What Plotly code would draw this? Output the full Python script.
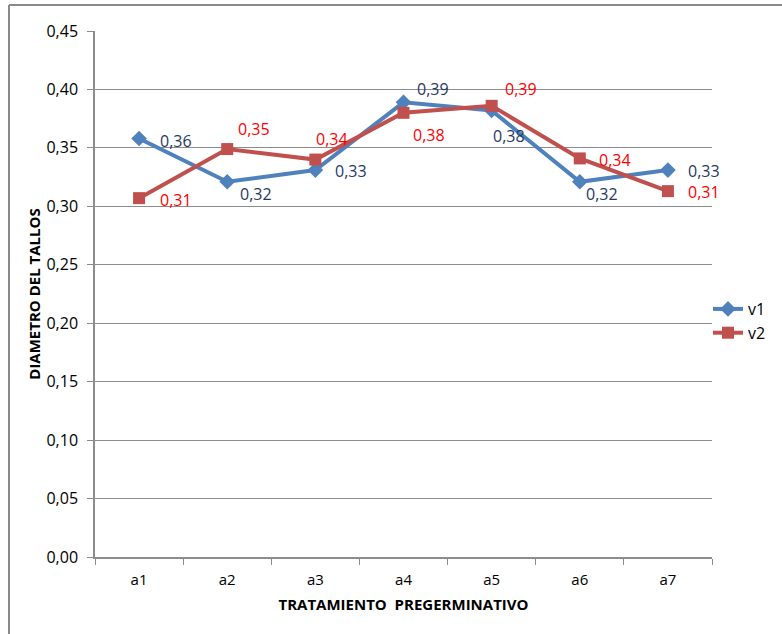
import plotly.graph_objects as go

# Data
categories = ["a1", "a2", "a3", "a4", "a5", "a6", "a7"]
v1 = [0.358, 0.321, 0.331, 0.389, 0.382, 0.321, 0.331]
v2 = [0.307, 0.349, 0.340, 0.380, 0.386, 0.341, 0.313]
y_ticks = [0.00, 0.05, 0.10, 0.15, 0.20, 0.25, 0.30, 0.35, 0.40, 0.45]

# Pixel offsets of the value labels from their markers (dx, dy; dy positive = down)
v1_offsets = [(19, 2), (11, 12), (18, 1), (11, -13), (-1, 26), (4, 12), (18, 1)]
v2_offsets = [(19, 2), (9, -20), (-1, -21), (7, 22), (11, -17), (17, 2), (18, 1)]

BLUE = "#4F81BD"
RED = "#C0504D"
GRID = "#8C8C8C"
FONT = "Open Sans"

def fmt(v):
    return f"{v:.2f}".replace(".", ",")

fig = go.Figure()
fig.add_trace(go.Scatter(
    x=categories, y=v1, name="v1", mode="lines+markers",
    line=dict(color=BLUE, width=4),
    marker=dict(symbol="diamond", size=12, color=BLUE),
))
fig.add_trace(go.Scatter(
    x=categories, y=v2, name="v2", mode="lines+markers",
    line=dict(color=RED, width=4),
    marker=dict(symbol="square", size=12, color=RED),
))

annotations = []
for vals, offs, col in ((v1, v1_offsets, "#1F3864"), (v2, v2_offsets, "#FF0000")):
    for c, v, (dx, dy) in zip(categories, vals, offs):
        annotations.append(dict(
            x=c, y=v, xref="x", yref="y", text=fmt(v), showarrow=False,
            xanchor="left", yanchor="middle", xshift=dx, yshift=-dy,
            font=dict(family=FONT, size=16, color=col),
        ))

# Chart frame (left and top edges)
L, R, T, B = 95, 70, 31, 77
W, H = 782, 634
pw, ph = W - L - R, H - T - B
def px(x):
    return (x - L) / pw
def py(y):
    return (H - B - y) / ph

shapes = [
    dict(type="line", xref="paper", yref="paper", x0=px(9), x1=px(790), y0=py(5), y1=py(5),
         line=dict(color="#8A8A8A", width=2)),
    dict(type="line", xref="paper", yref="paper", x0=px(9), x1=px(9), y0=py(5), y1=py(640),
         line=dict(color="#8A8A8A", width=2)),
]

fig.update_layout(
    width=W, height=H,
    margin=dict(l=L, r=R, t=T, b=B, autoexpand=False),
    paper_bgcolor="white", plot_bgcolor="white",
    separators=", ",
    font=dict(family=FONT, size=15, color="#000000"),
    showlegend=True,
    legend=dict(x=px(708), y=py(321), xanchor="left", yanchor="middle",
                font=dict(family=FONT, size=16, color="#000000"),
                bgcolor="rgba(0,0,0,0)", itemwidth=30, tracegroupgap=6),
    annotations=annotations,
    shapes=shapes,
)
fig.update_xaxes(
    range=[-0.5, 6.5], showgrid=False, showline=True, linecolor=GRID, linewidth=1.5,
    ticks="outside", tickson="boundaries", ticklen=6, tickcolor=GRID,
    tickfont=dict(family=FONT, size=15), ticklabelstandoff=8,
    title=dict(text="<b>TRATAMIENTO  PREGERMINATIVO</b>", font=dict(family=FONT, size=15), standoff=12),
)
fig.update_yaxes(
    range=[0, 0.45], tickvals=y_ticks, tickformat=".2f", showgrid=True, gridcolor=GRID, gridwidth=1,
    showline=True, linecolor=GRID, linewidth=1.5, ticks="outside", ticklen=6, tickcolor=GRID,
    tickfont=dict(family=FONT, size=16), ticklabelstandoff=6, zeroline=False,
    title=dict(text="<b>DIAMETRO DEL TALLOS</b>", font=dict(family=FONT, size=15), standoff=2),
)

fig.write_html("out.html")
